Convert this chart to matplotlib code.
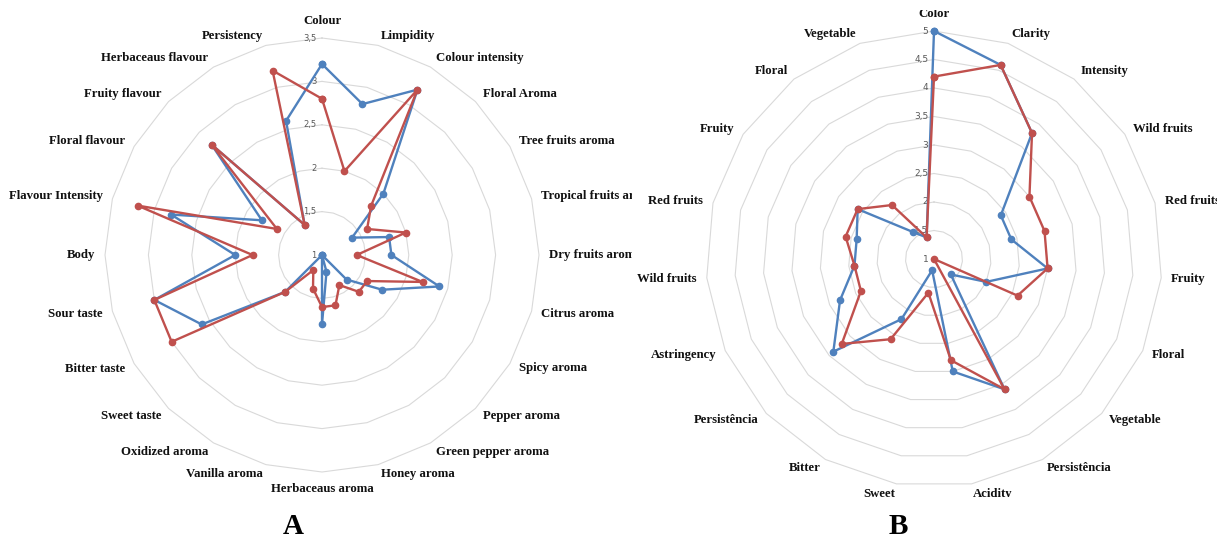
import numpy as np
import matplotlib.pyplot as plt
from matplotlib.transforms import Bbox, TransformedBbox

# chart A: sensory attributes, scale 1 - 3.5
labels_a = ['Colour', 'Limpidity', 'Colour intensity', 'Floral Aroma', 'Tree fruits aroma',
            'Tropical fruits aroma', 'Dry fruits aroma', 'Citrus aroma', 'Spicy aroma',
            'Pepper aroma', 'Green pepper aroma', 'Honey aroma', 'Herbaceaus aroma',
            'Vanilla aroma', 'Oxidized aroma', 'Sweet taste', 'Bitter taste', 'Sour taste',
            'Body', 'Flavour Intensity', 'Floral flavour', 'Fruity flavour',
            'Herbaceaus flavour', 'Persistency']
blue_a = [3.2, 2.8, 3.2, 2.0, 1.4, 1.8, 1.8, 2.4, 1.8, 1.4, 1.0, 1.2, 1.8, 1.0, 1.0, 1.6,
          2.6, 3.0, 2.0, 2.8, 1.8, 2.8, 1.4, 2.6]
red_a = [2.8, 2.0, 3.2, 1.8, 1.6, 2.0, 1.4, 2.2, 1.6, 1.6, 1.4, 1.6, 1.6, 1.4, 1.2, 1.6,
         3.0, 3.0, 1.8, 3.2, 1.6, 2.8, 1.4, 3.2]
ticks_a = [1, 1.5, 2, 2.5, 3, 3.5]

# chart B: scale 1 - 5
labels_b = ['Color', 'Clarity', 'Intensity', 'Wild fruits', 'Red fruits', 'Fruity', 'Floral',
            'Vegetable', 'Persistência', 'Acidity', 'Sweet', 'Bitter', 'Persistência',
            'Astringency', 'Wild fruits', 'Red fruits', 'Fruity', 'Floral', 'Vegetable']
blue_b = [5.0, 4.6, 3.8, 2.4, 2.4, 3.0, 2.0, 1.4, 3.6, 3.0, 1.2, 2.2, 3.4, 2.8, 2.4, 2.4,
          2.6, 1.6, 1.4]
red_b = [4.2, 4.6, 3.8, 3.0, 3.0, 3.0, 2.6, 1.0, 3.6, 2.8, 1.6, 2.6, 3.2, 2.4, 2.4, 2.6,
         2.6, 2.2, 1.4]
ticks_b = [1, 1.5, 2, 2.5, 3, 3.5, 4, 4.5, 5]

W, H = 1217, 536
BLUE = '#4f81bd'
RED = '#c0504d'
GRID = '#d9d9d9'
LABFONT = dict(family='Liberation Serif', weight='bold', size=9.2, color='#111111')


def px_axes(cx, cy, r):
    return [(cx - r) / W, (H - cy - r) / H, 2 * r / W, 2 * r / H]


def draw_radar(fig, ax, labels, blue, red, ticks, r_px, tick_fs, clip):
    n = len(labels)
    theta = np.arange(n) * 2 * np.pi / n
    vmin, vmax = ticks[0], ticks[-1]
    scale = r_px / (vmax - vmin)
    ax.set_theta_zero_location('N')
    ax.set_theta_direction(-1)
    ax.set_ylim(vmin, vmax)
    ax.set_xticks([])
    ax.set_yticks([])
    ax.grid(False)
    ax.spines['polar'].set_visible(False)
    ax.patch.set_alpha(0)

    closed = np.append(theta, theta[0])
    for lev in ticks[1:]:
        ax.plot(closed, [lev] * (n + 1), color=GRID, lw=0.8, zorder=1, clip_on=False)
    for lev in ticks:
        ax.annotate(('%g' % lev).replace('.', ','), xy=(0, lev), xytext=(-4, 0),
                    textcoords='offset points', ha='right', va='center',
                    fontsize=tick_fs, color='#595959', annotation_clip=False)

    for vals, col in ((blue, BLUE), (red, RED)):
        ax.plot(closed, np.append(vals, vals[0]), color=col, lw=1.7, marker='o', ms=4.5,
                zorder=3, clip_on=False)

    clip_box = TransformedBbox(Bbox.from_extents(*clip), fig.transFigure)
    for t, lab in zip(theta, labels):
        s, c = np.sin(t), np.cos(t)
        if abs(s) < 0.1:
            ha = 'center'
            va = 'bottom' if c > 0 else 'top'
            r = vmax + 11 / scale
        else:
            ha = 'left' if s > 0 else 'right'
            va = 'center'
            r = vmax + 10 / scale
        txt = fig.text(t, r, lab, transform=ax.transData, ha=ha, va=va, **LABFONT)
        txt.set_clip_box(clip_box)


fig = plt.figure(figsize=(W / 100, H / 100), dpi=100)

ax_a = fig.add_axes(px_axes(322, 255, 217), projection='polar')
draw_radar(fig, ax_a, labels_a, blue_a, red_a, ticks_a, 217, 6,
           (0, 0, 632 / W, 1))

ax_b = fig.add_axes(px_axes(934, 259, 228), projection='polar')
draw_radar(fig, ax_b, labels_b, blue_b, red_b, ticks_b, 228, 6.5,
           (0, (H - 497) / H, 1, (H - 10) / H))

fig.text(293 / W, (H - 534) / H, 'A', ha='center', va='baseline', fontsize=21,
         family='Liberation Serif', weight='bold')
fig.text(898 / W, (H - 534) / H, 'B', ha='center', va='baseline', fontsize=21,
         family='Liberation Serif', weight='bold')

fig.savefig('out.png', dpi=100)
